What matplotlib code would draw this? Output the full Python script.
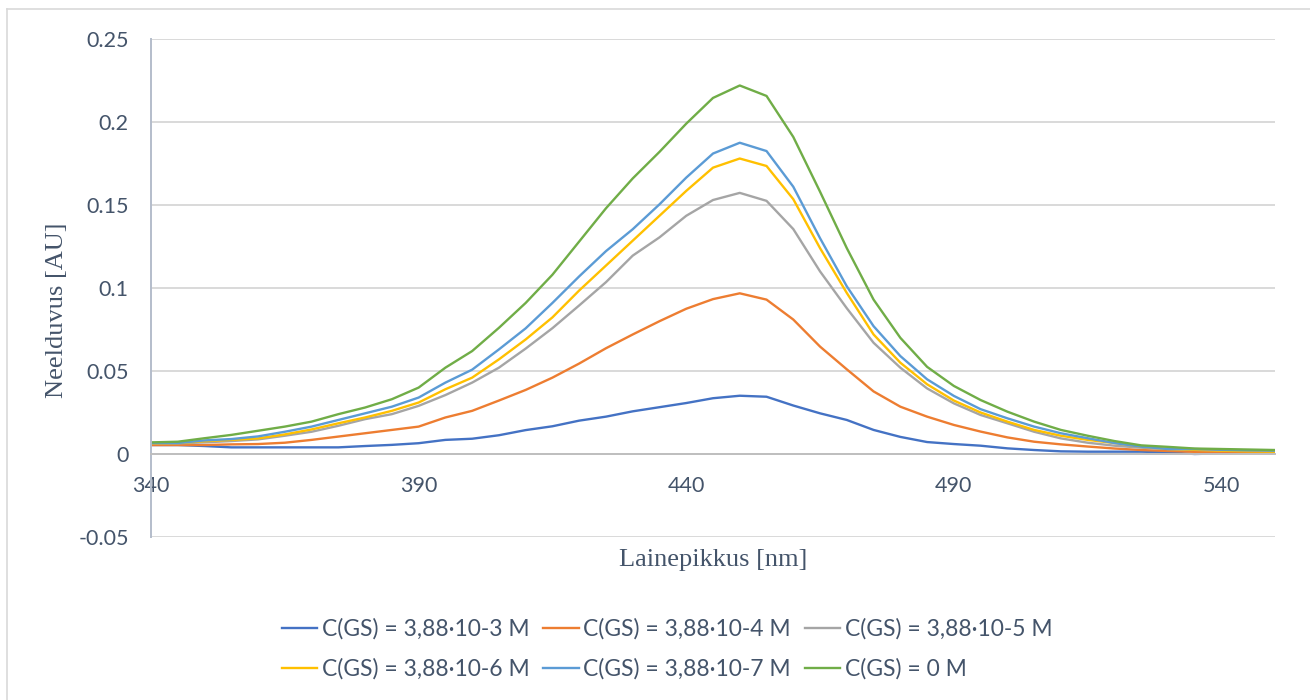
import numpy as np
import matplotlib.pyplot as plt
from matplotlib.lines import Line2D

# lainepikkused (nm)
wl = list(range(340, 551, 5))

# neelduvus eri GS kontsentratsioonidel (loetud graafikult)
a_1e3 = [0.0054, 0.0054, 0.0048, 0.0040, 0.0040, 0.0040, 0.0040, 0.0040, 0.0048, 0.0055,
         0.0065, 0.0085, 0.0092, 0.0113, 0.0144, 0.0167, 0.0201, 0.0225, 0.0257, 0.0282,
         0.0307, 0.0336, 0.0351, 0.0345, 0.0292, 0.0245, 0.0205, 0.0145, 0.0103, 0.0072,
         0.0060, 0.0050, 0.0034, 0.0024, 0.0016, 0.0014, 0.0014, 0.0014, 0.0010, 0.0000,
         0.0004, 0.0008, 0.0008]
a_1e4 = [0.0054, 0.0054, 0.0054, 0.0058, 0.0060, 0.0068, 0.0085, 0.0105, 0.0125, 0.0145,
         0.0165, 0.0220, 0.0260, 0.0322, 0.0386, 0.0460, 0.0545, 0.0637, 0.0720, 0.0800,
         0.0875, 0.0933, 0.0968, 0.0930, 0.0810, 0.0647, 0.0510, 0.0377, 0.0285, 0.0225,
         0.0175, 0.0135, 0.0100, 0.0074, 0.0058, 0.0045, 0.0033, 0.0024, 0.0018, 0.0013,
         0.0010, 0.0008, 0.0008]
a_1e5 = [0.0064, 0.0064, 0.0070, 0.0078, 0.0088, 0.0110, 0.0134, 0.0170, 0.0210, 0.0240,
         0.0290, 0.0355, 0.0430, 0.0520, 0.0635, 0.0758, 0.0895, 0.1035, 0.1195, 0.1305,
         0.1435, 0.1530, 0.1573, 0.1525, 0.1355, 0.1100, 0.0878, 0.0670, 0.0520, 0.0395,
         0.0305, 0.0235, 0.0185, 0.0134, 0.0094, 0.0068, 0.0050, 0.0038, 0.0030, 0.0025,
         0.0022, 0.0020, 0.0018]
a_1e6 = [0.0064, 0.0066, 0.0077, 0.0085, 0.0094, 0.0118, 0.0148, 0.0185, 0.0220, 0.0260,
         0.0310, 0.0390, 0.0460, 0.0570, 0.0690, 0.0823, 0.0985, 0.1135, 0.1285, 0.1435,
         0.1585, 0.1725, 0.1780, 0.1735, 0.1535, 0.1240, 0.0970, 0.0720, 0.0550, 0.0420,
         0.0322, 0.0250, 0.0195, 0.0145, 0.0110, 0.0085, 0.0066, 0.0044, 0.0030, 0.0025,
         0.0020, 0.0016, 0.0014]
a_1e7 = [0.0066, 0.0066, 0.0082, 0.0090, 0.0106, 0.0134, 0.0165, 0.0205, 0.0245, 0.0285,
         0.0340, 0.0430, 0.0508, 0.0630, 0.0757, 0.0910, 0.1070, 0.1222, 0.1354, 0.1504,
         0.1665, 0.1810, 0.1875, 0.1825, 0.1610, 0.1300, 0.1010, 0.0770, 0.0590, 0.0450,
         0.0350, 0.0270, 0.0215, 0.0165, 0.0125, 0.0095, 0.0066, 0.0044, 0.0030, 0.0030,
         0.0025, 0.0022, 0.0020]
a_0 = [0.0070, 0.0074, 0.0095, 0.0115, 0.0140, 0.0165, 0.0195, 0.0240, 0.0280, 0.0330,
       0.0400, 0.0520, 0.0620, 0.0760, 0.0910, 0.1080, 0.1280, 0.1480, 0.1660, 0.1820,
       0.1990, 0.2145, 0.2220, 0.2157, 0.1910, 0.1580, 0.1240, 0.0930, 0.0700, 0.0525,
       0.0410, 0.0325, 0.0255, 0.0195, 0.0145, 0.0110, 0.0078, 0.0052, 0.0043, 0.0033,
       0.0030, 0.0027, 0.0024]

seeriad = [a_1e3, a_1e4, a_1e5, a_1e6, a_1e7, a_0]
nimed = ['C(GS) = 3,88·10-3 M', 'C(GS) = 3,88·10-4 M', 'C(GS) = 3,88·10-5 M',
         'C(GS) = 3,88·10-6 M', 'C(GS) = 3,88·10-7 M', 'C(GS) = 0 M']
varvid = ['#4472C4', '#ED7D31', '#A5A5A5', '#FFC000', '#5B9BD5', '#70AD47']
x_ticks = [340, 390, 440, 490, 540]

tekst = '#44546A'
plt.rcParams['font.family'] = ['Lato', 'DejaVu Sans']

fig = plt.figure(figsize=(13.1, 7), dpi=100)
ax = fig.add_axes([151/1310, 1 - 537/700, (1275-151)/1310, (537-39)/700])

for y, nimi, c in zip(seeriad, nimed, varvid):
    ax.plot(wl, y, color=c, lw=1.7, label=nimi)

ax.set_xlim(340, 550)
ax.set_ylim(-0.05, 0.25)
ax.set_yticks(np.arange(-0.05, 0.2501, 0.05))
ax.set_yticklabels(['-0.05', '0', '0.05', '0.1', '0.15', '0.2', '0.25'])
ax.set_xticks(x_ticks)
ax.grid(axis='y', color='#D9D9D9', lw=1.4)
ax.set_axisbelow(True)

for s in ['top', 'right']:
    ax.spines[s].set_visible(False)
ax.spines['bottom'].set_position(('data', 0))
ax.spines['bottom'].set_color('#BFBFBF')
ax.spines['bottom'].set_linewidth(1.4)
ax.spines['left'].set_color('#B4BDCB')
ax.spines['left'].set_linewidth(1.4)
ax.tick_params(axis='x', length=0, pad=16, labelsize=15.5, labelcolor=tekst)
ax.tick_params(axis='y', length=0, pad=16, labelsize=15.5, labelcolor=tekst)

# telgede pealkirjad
fig.text(713/1310, 1 - 560/700, 'Lainepikkus [nm]', ha='center', va='center',
         family='Liberation Serif', fontsize=19, color=tekst)
fig.text(57/1310, 1 - 310/700, 'Neelduvus [AU]', ha='center', va='center', rotation=90,
         family='Liberation Serif', fontsize=19, color=tekst)

# legend ridade kaupa (matplotlib taidab veergude kaupa)
h, l = ax.get_legend_handles_labels()
jrk = [0, 3, 1, 4, 2, 5]
fig.legend([h[i] for i in jrk], [l[i] for i in jrk], ncol=3, loc='center',
           bbox_to_anchor=(667/1310, 1 - 649/700), frameon=False, fontsize=16.5,
           labelcolor=tekst, handlelength=1.55, handletextpad=0.2, columnspacing=0.6,
           labelspacing=0.8)

# diagrammi ala raam (vasak ja ulemine serv)
fig.add_artist(Line2D([7/1310, 7/1310], [0, 1 - 9/700], color='#D9D9D9', lw=1.2))
fig.add_artist(Line2D([7/1310, 1], [1 - 9/700, 1 - 9/700], color='#D9D9D9', lw=1.2))

fig.savefig('out.png', dpi=100)
